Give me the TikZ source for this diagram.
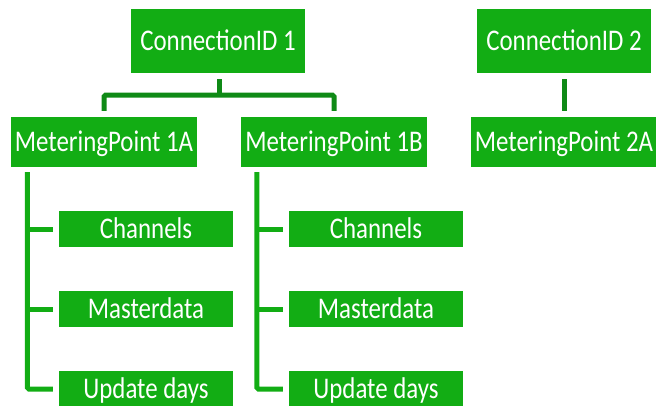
\documentclass[tikz,border=0pt]{standalone}
\usepackage{fontspec}
\setmainfont{Carlito}[FakeStretch=0.83]
\usetikzlibrary{calc}
\definecolor{boxgreen}{HTML}{12AD14}
\definecolor{linkgreen}{HTML}{0F8A16}
\tikzset{
  box/.style={fill=boxgreen, text=white, inner sep=0pt, font=\fontsize{30}{30}\selectfont,
    text height=19.3pt, text depth=0pt, minimum width=#1},
  topbox/.style={box=174pt, minimum height=64pt},
  mpbox/.style={box=186pt, minimum height=50pt},
  leafbox/.style={box=174pt, minimum height=36pt},
  toplink/.style={draw=linkgreen, line width=5pt, rounded corners=1.5pt},
  treelink/.style={draw=boxgreen, line width=5pt, rounded corners=1.5pt}
}
\begin{document}
\begin{tikzpicture}[x=1pt,y=-1pt]
\useasboundingbox (0,0) rectangle (656,405);
\clip (0,0) rectangle (656,405);
% top level
\node[topbox] (c1) at (218,41) {ConnectionID 1};
\node[topbox] (c2) at (564,41) {ConnectionID 2};
% metering points
\node[mpbox] (mp1a) at (104,142) {MeteringPoint 1A};
\node[mpbox] (mp1b) at (334,142) {MeteringPoint 1B};
\node[mpbox] (mp2a) at (564,142) {MeteringPoint 2A};
% leaves A
\node[leafbox] (cha) at (146,229) {Channels};
\node[leafbox] (mda) at (146,309) {Masterdata};
\node[leafbox] (upa) at (146,389) {Update days};
% leaves B
\node[leafbox] (chb) at (376,229) {Channels};
\node[leafbox] (mdb) at (376,309) {Masterdata};
\node[leafbox] (upb) at (376,389) {Update days};
% top connectors
\coordinate (c1s) at ($(c1.south)+(1,6)$);
\coordinate (bar) at ($(c1.south)+(1,22)$);
\draw[toplink] (c1s) -- (bar);
\draw[toplink] ($(mp1a.north)+(0,-6)$) |- (bar) -| ($(mp1b.north)+(0,-6)$);
\draw[toplink] ($(c2.south)+(0,6)$) -- ($(mp2a.north)+(0,-6)$);
% tree A
\coordinate (ta) at ($(mp1a.south west)+(16.5,5)$);
\draw[treelink] (ta) |- ($(upa.west)+(-6,0)$);
\draw[treelink] (ta |- cha.west) -- ($(cha.west)+(-6,0)$);
\draw[treelink] (ta |- mda.west) -- ($(mda.west)+(-6,0)$);
% tree B
\coordinate (tb) at ($(mp1b.south west)+(16,5)$);
\draw[treelink] (tb) |- ($(upb.west)+(-6,0)$);
\draw[treelink] (tb |- chb.west) -- ($(chb.west)+(-6,0)$);
\draw[treelink] (tb |- mdb.west) -- ($(mdb.west)+(-6,0)$);
\end{tikzpicture}
\end{document}
